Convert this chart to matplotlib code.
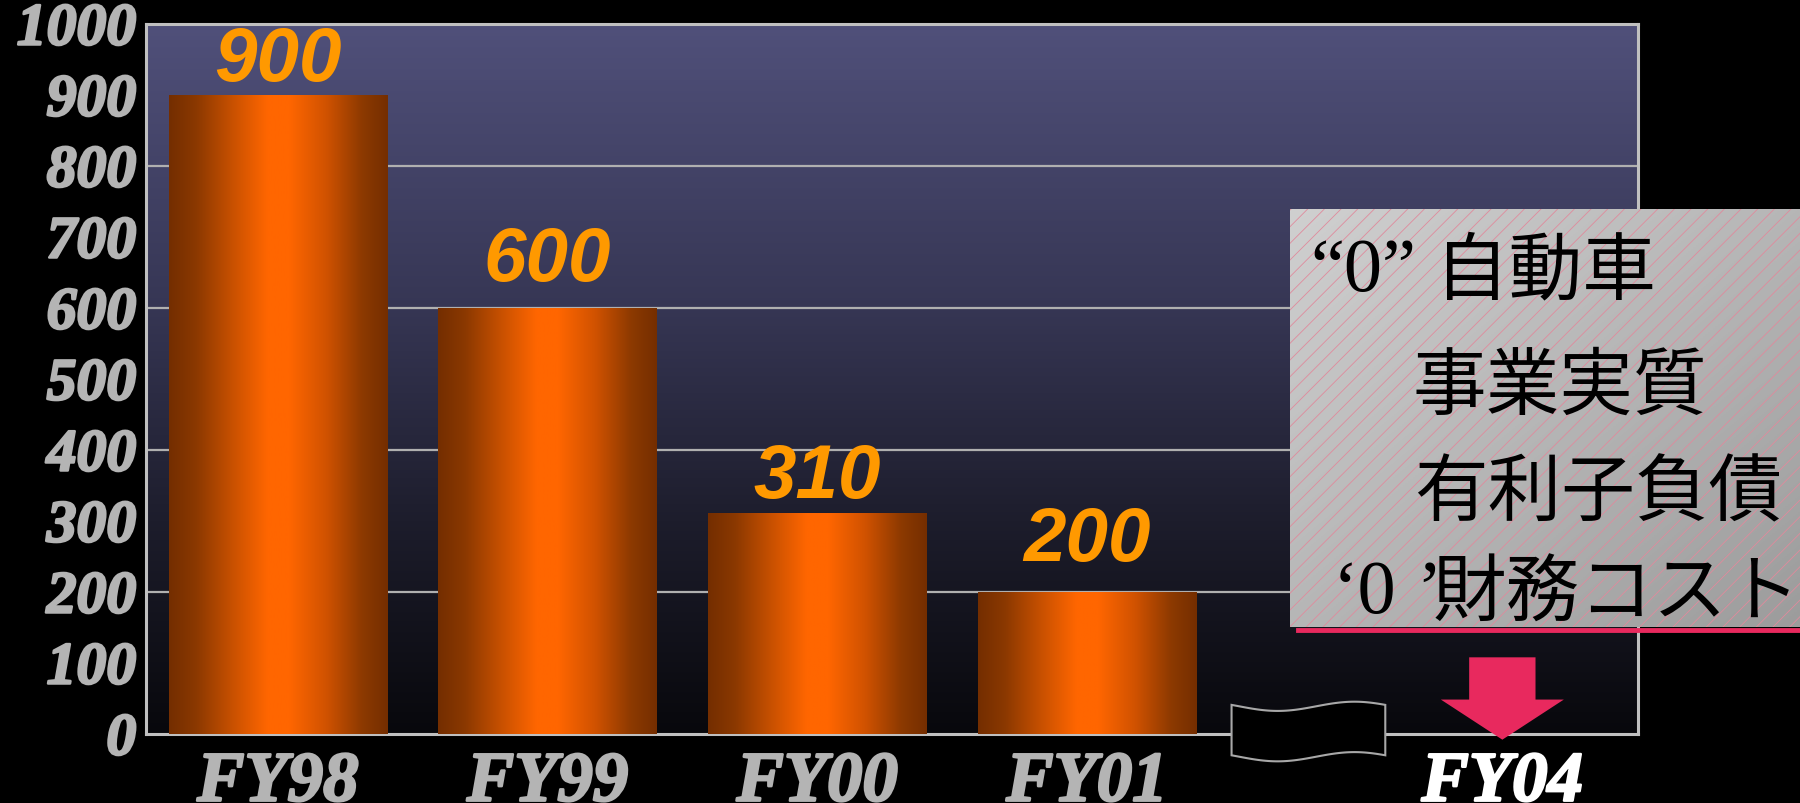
import numpy as np
import matplotlib
matplotlib.use('Agg')
import matplotlib.pyplot as plt
from matplotlib.colors import LinearSegmentedColormap
from matplotlib.patches import Rectangle, Polygon
from matplotlib.lines import Line2D
import matplotlib.patheffects as pe

# ---------------- data ----------------
categories = ['FY98', 'FY99', 'FY00', 'FY01']
values = [900, 600, 310, 200]
target_label = 'FY04'
y_ticks = list(range(0, 1001, 100))
grid_values = [200, 400, 600, 800]
box_quote_1 = '“0”'
box_line_1 = '自動車'
box_line_2 = '事業実質'
box_line_3 = '有利子負債'
box_quote_4a = '‘0'
box_quote_4b = '’'
box_line_4 = '財務コスト'

# ---------------- style ----------------
W, H = 1800, 804
SERIF = ['Liberation Serif', 'DejaVu Serif']
SANS = ['Liberation Sans', 'DejaVu Sans']
CJK = ['Noto Sans CJK JP', 'DejaVu Sans']
label_offsets_pt = [11, 20, 12, 23]

def fx(px):
    return px / W

def fy(py):
    return 1 - py / H

fig = plt.figure(figsize=(18, 8.04), dpi=100, facecolor='black')
ax = fig.add_axes([fx(146), fy(735), (1638 - 146) / W, (735 - 25) / H])
ax.set_facecolor('black')

XMIN, XMAX = -0.489, 5.043
x = np.arange(len(categories))
target_x = 4.54

# background gradient
bg_cmap = LinearSegmentedColormap.from_list(
    'bg', [(0, '#08080c'), (0.3, '#1d1d2c'), (0.6, '#363654'), (1, '#50507a')])
ax.imshow(np.linspace(0, 1, 256).reshape(-1, 1), extent=[XMIN, XMAX, 0, 1000],
          origin='lower', aspect='auto', cmap=bg_cmap, zorder=0)

# grid
for g in grid_values:
    ax.axhline(g, color='#b0b0b0', lw=1.6, zorder=1)

# bars with cylindrical gradient
bars = ax.bar(x, values, width=0.81, color='none', edgecolor='none', zorder=3)
bar_cmap = LinearSegmentedColormap.from_list(
    'bar', [(0, '#742e00'), (0.12, '#8a3800'), (0.3, '#cc5200'), (0.45, '#ff6600'),
            (0.55, '#ff6600'), (0.72, '#d05200'), (0.88, '#8e3a00'), (1, '#742e00')])
hgrad = np.linspace(0, 1, 256).reshape(1, -1)
for b, v, off in zip(bars, values, label_offsets_pt):
    x0, y0, w, h = b.get_x(), b.get_y(), b.get_width(), b.get_height()
    ax.imshow(hgrad, extent=[x0, x0 + w, y0, y0 + h], aspect='auto',
              cmap=bar_cmap, zorder=3)
    ax.annotate(f'{v}', xy=(x0 + w / 2, y0 + h), xytext=(0, off),
                textcoords='offset points', ha='center', va='baseline',
                fontsize=55, fontweight='bold', fontstyle='italic',
                family=SANS, color='#ff9900', zorder=4)

ax.set_xlim(XMIN, XMAX)
ax.set_ylim(0, 1000)

# spines
for s in ax.spines.values():
    s.set_color('#c0c0c0')
    s.set_linewidth(2.2)

# ticks
ax.set_yticks(y_ticks)
ax.set_yticklabels([str(t) for t in y_ticks])
ax.set_xticks(list(x) + [target_x])
ax.set_xticklabels(categories + [target_label])
ax.tick_params(length=0)
ax.tick_params(axis='y', pad=7)
ax.tick_params(axis='x', pad=12)
heavy = [pe.withStroke(linewidth=1.8, foreground='#b4b4b4')]
for lab in ax.get_yticklabels():
    lab.set_fontfamily(SERIF)
    lab.set_fontsize(43)
    lab.set_fontweight('bold')
    lab.set_fontstyle('italic')
    lab.set_color('#b4b4b4')
    lab.set_verticalalignment('center_baseline')
    lab.set_path_effects(heavy)
for lab in ax.get_xticklabels():
    lab.set_fontfamily(SERIF)
    lab.set_fontsize(51)
    lab.set_fontweight('bold')
    lab.set_fontstyle('italic')
    if lab.get_text() == target_label:
        lab.set_color('white')
        lab.set_path_effects([pe.withStroke(linewidth=1.8, foreground='white')])
    else:
        lab.set_color('#b4b4b4')
        lab.set_path_effects(heavy)

# axis break symbol
t = np.linspace(0, 1, 60)
bx0, bx1 = 3.536, 4.106
wave = 6.5 * np.sin(2 * np.pi * (t - 0.55))
top = np.column_stack([bx0 + t * (bx1 - bx0), 39 + wave])
bot = np.column_stack([bx1 - t * (bx1 - bx0), -32 + wave[::-1]])
ax.add_patch(Polygon(np.vstack([top, bot]), closed=True, facecolor='black',
                     edgecolor='#a8a8a8', lw=1.5, clip_on=False, zorder=5))

# down arrow to FY04
sw, hw = 0.123, 0.228
arrow = [(target_x - sw, 108), (target_x + sw, 108), (target_x + sw, 48.5),
         (target_x + hw, 48.5), (target_x, -8), (target_x - hw, 48.5),
         (target_x - sw, 48.5)]
ax.add_patch(Polygon(arrow, closed=True, facecolor='#e8295e', edgecolor='none',
                     clip_on=False, zorder=6))

# info box
bax = fig.add_axes([fx(1290), fy(628), 510 / W, 418 / H])
bax.set_axis_off()
gx, gy = np.meshgrid(np.linspace(0, 1, 200), np.linspace(0, 1, 200))
box_cmap = LinearSegmentedColormap.from_list('box', ['#d0d0d0', '#9c9c9c'])
bax.imshow((gx + gy) / 2, extent=[0, 1, 0, 1], origin='upper', aspect='auto',
           cmap=box_cmap)
plt.rcParams['hatch.linewidth'] = 0.6
bax.add_patch(Rectangle((0, 0), 1, 1, fill=False, hatch='//', edgecolor='#e08a9c',
                        lw=0))
bax.set_xlim(0, 1)
bax.set_ylim(0, 1)

fig.add_artist(Line2D([fx(1298), 1.0], [fy(631), fy(631)], color='#e8295e', lw=3.5))

txt_kw = dict(color='black', va='center', ha='left')
fig.text(fx(1310), fy(272), box_quote_1, family=SERIF, fontsize=55, **txt_kw)
fig.text(fx(1435), fy(273), box_line_1, family=CJK, fontsize=53, **txt_kw)
fig.text(fx(1412), fy(388), box_line_2, family=CJK, fontsize=53, **txt_kw)
fig.text(fx(1414), fy(495), box_line_3, family=CJK, fontsize=53, **txt_kw)
fig.text(fx(1333), fy(594), box_quote_4a, family=SERIF, fontsize=55, **txt_kw)
fig.text(fx(1416), fy(594), box_quote_4b, family=SERIF, fontsize=55, **txt_kw)
fig.text(fx(1433), fy(595), box_line_4, family=CJK, fontsize=53, **txt_kw)

fig.savefig('out.png', dpi=100, facecolor='black')
